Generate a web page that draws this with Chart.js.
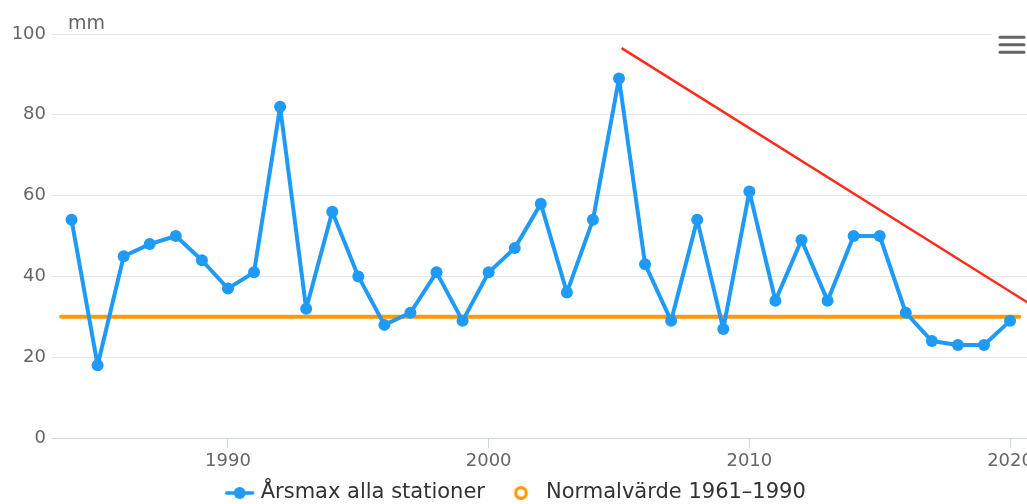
<!DOCTYPE html>
<html>
<head>
<meta charset="utf-8">
<script src="https://cdn.jsdelivr.net/npm/chart.js@4.4.1/dist/chart.umd.min.js"></script>
<style>
  html, body { margin: 0; padding: 0; background: #ffffff; overflow: hidden; }
  #wrap { width: 1027px; height: 504px; position: relative; }
</style>
</head>
<body>
<div id="wrap"><canvas id="c" width="1027" height="504"></canvas></div>
<script>
// ---- data ----
const years = [1984, 1985, 1986, 1987, 1988, 1989, 1990, 1991, 1992, 1993,
               1994, 1995, 1996, 1997, 1998, 1999, 2000, 2001, 2002, 2003,
               2004, 2005, 2006, 2007, 2008, 2009, 2010, 2011, 2012, 2013,
               2014, 2015, 2016, 2017, 2018, 2019, 2020];
const arsmax = [54, 18, 45, 48, 50, 44, 37, 41, 82, 32,
                56, 40, 28, 31, 41, 29, 41, 47, 58, 36,
                54, 89, 43, 29, 54, 27, 61, 34, 49, 34,
                50, 50, 31, 24, 23, 23, 29];
const normalYears = [1983.6, 2020.35];
const normalValues = [30, 30];
const trendYears = [2005.1, 2021.5];
const trendValues = [96.5, 30.2];
const xTicks = [1990, 2000, 2010, 2020];
const yTicks = [0, 20, 40, 60, 80, 100];
const seriesLabels = ['Årsmax alla stationer', 'Normalvärde 1961–1990'];
const yUnit = 'mm';

// ---- styles ----
const BLUE = '#1f9af7';
const ORANGE = '#ff9a00';
const RED = '#ff2a1c';
const FONT = '"DejaVu Sans", Verdana, sans-serif';

function makeLineSymbol() {
  const c = document.createElement('canvas');
  c.width = 60; c.height = 16;
  const g = c.getContext('2d');
  g.strokeStyle = BLUE; g.lineWidth = 3.5; g.lineCap = 'round';
  g.beginPath(); g.moveTo(26.5, 8); g.lineTo(52.5, 8); g.stroke();
  g.fillStyle = BLUE;
  g.beginPath(); g.arc(39.5, 8, 6, 0, Math.PI * 2); g.fill();
  return c;
}
function makeCircleSymbol() {
  const c = document.createElement('canvas');
  c.width = 30; c.height = 16;
  const g = c.getContext('2d');
  g.strokeStyle = ORANGE; g.lineWidth = 3.2;
  g.beginPath(); g.arc(20.5, 8, 5.3, 0, Math.PI * 2); g.stroke();
  return c;
}
const legendSymbols = [makeLineSymbol(), makeCircleSymbol()];

const decorPlugin = {
  id: 'decor',
  afterDraw(chart) {
    const ctx = chart.ctx;
    const area = chart.chartArea;
    ctx.save();
    // axis unit title
    ctx.font = '19px ' + FONT;
    ctx.fillStyle = '#666666';
    ctx.textAlign = 'left';
    ctx.textBaseline = 'alphabetic';
    ctx.fillText(yUnit, area.left + 16, area.top - 5);
    // context menu button
    const bx = chart.width - 35;
    ctx.fillStyle = '#ffffff';
    ctx.fillRect(bx, area.top - 4, 35, 26);
    ctx.strokeStyle = '#666666';
    ctx.lineWidth = 3;
    ctx.lineCap = 'round';
    [37.3, 44.8, 52.3].forEach(yy => {
      ctx.beginPath();
      ctx.moveTo(bx + 8, yy);
      ctx.lineTo(bx + 32, yy);
      ctx.stroke();
    });
    ctx.restore();
  }
};

new Chart(document.getElementById('c'), {
  type: 'line',
  data: {
    datasets: [
      {
        label: seriesLabels[0],
        data: years.map((y, i) => ({ x: y, y: arsmax[i] })),
        borderColor: BLUE,
        backgroundColor: BLUE,
        borderWidth: 4,
        borderJoinStyle: 'round',
        borderCapStyle: 'round',
        pointRadius: 6,
        pointBorderWidth: 0,
        pointBackgroundColor: BLUE,
        tension: 0,
        order: 1
      },
      {
        label: seriesLabels[1],
        data: normalYears.map((y, i) => ({ x: y, y: normalValues[i] })),
        borderColor: ORANGE,
        backgroundColor: ORANGE,
        borderWidth: 4,
        borderCapStyle: 'round',
        pointRadius: 0,
        tension: 0,
        order: 2
      },
      {
        label: 'trend',
        data: trendYears.map((y, i) => ({ x: y, y: trendValues[i] })),
        borderColor: RED,
        backgroundColor: RED,
        borderWidth: 2.5,
        pointRadius: 0,
        tension: 0,
        order: 0
      }
    ]
  },
  options: {
    responsive: false,
    animation: false,
    events: [],
    layout: { autoPadding: false, padding: { top: 34, left: -11, right: 0, bottom: -9.5 } },
    scales: {
      x: {
        type: 'linear',
        min: 1983.25,
        max: 2020.65,
        afterBuildTicks: s => { s.ticks = xTicks.map(v => ({ value: v })); },
        afterFit: s => { s.height = 34; s.paddingLeft = 0; s.paddingRight = 0; },
        grid: { drawOnChartArea: false, drawTicks: true, tickLength: 10, color: '#ccd6eb', lineWidth: 1 },
        border: { display: true, color: '#ccd6eb', width: 1 },
        ticks: {
          font: { family: FONT, size: 18 },
          color: '#666666',
          padding: 3,
          maxRotation: 0,
          autoSkip: false,
          callback: v => String(v)
        }
      },
      y: {
        min: 0,
        max: 100,
        afterBuildTicks: s => { s.ticks = yTicks.map(v => ({ value: v })); },
        afterFit: s => { s.width = 63; },
        grid: { color: '#e6e6e6', lineWidth: 1, drawTicks: false },
        border: { display: false },
        ticks: {
          font: { family: FONT, size: 18 },
          color: '#666666',
          padding: 6,
          callback: v => String(v)
        }
      }
    },
    plugins: {
      tooltip: { enabled: false },
      legend: {
        display: true,
        position: 'bottom',
        labels: {
          usePointStyle: true,
          pointStyleWidth: 40,
          padding: 10.5,
          font: { family: FONT, size: 21 },
          color: '#333333',
          generateLabels: chart => seriesLabels.map((t, i) => ({
            text: t,
            datasetIndex: i,
            pointStyle: legendSymbols[i],
            fillStyle: 'transparent',
            strokeStyle: 'transparent',
            lineWidth: 0,
            fontColor: '#333333',
            hidden: false
          }))
        }
      }
    }
  },
  plugins: [decorPlugin]
});
</script>
</body>
</html>
